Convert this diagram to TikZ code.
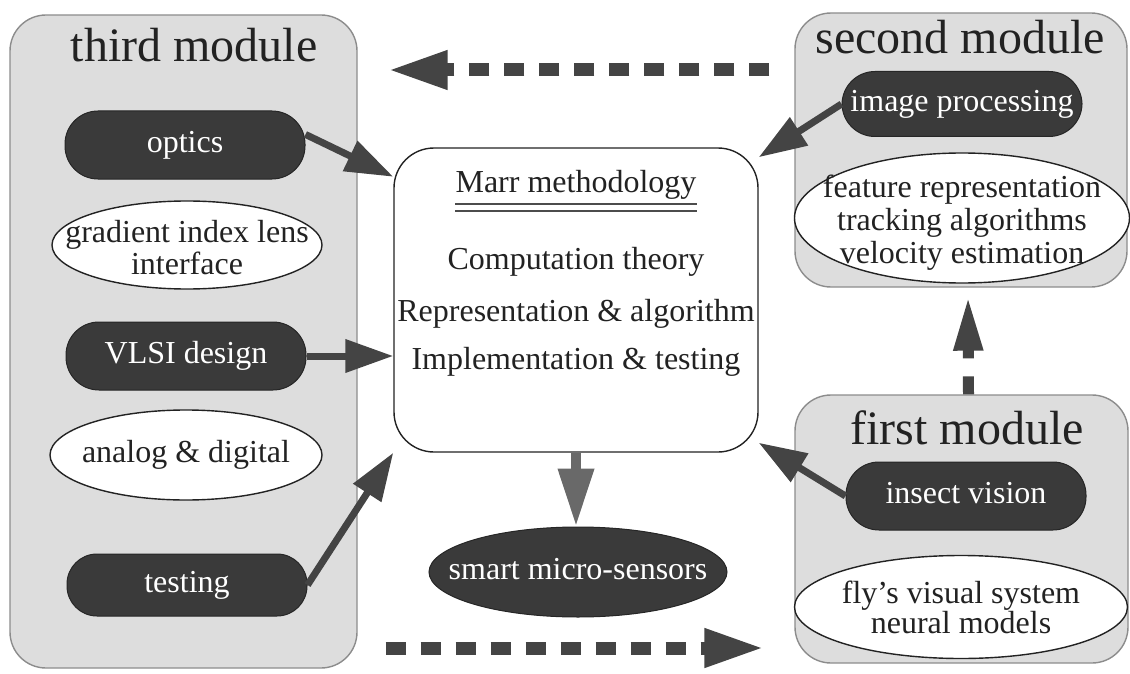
\documentclass[tikz,border=0pt]{standalone}
\usepackage{fontspec}
\setmainfont{Liberation Serif}
\usetikzlibrary{arrows.meta,shapes.geometric,calc}

\definecolor{modfill}{RGB}{221,221,221}
\definecolor{modline}{RGB}{140,140,140}
\definecolor{darkfill}{RGB}{58,58,58}
\definecolor{arrowc}{RGB}{68,68,68}
\definecolor{downc}{RGB}{105,105,105}
\definecolor{inkc}{RGB}{34,34,34}

\newcommand\nodefont{\fontsize{32}{32}\selectfont}
\newcommand\titlefont{\fontsize{48}{50}\selectfont}

\begin{document}
\begin{tikzpicture}[x=1pt,y=-1pt,
  module/.style={draw=modline, line width=1.4pt, fill=modfill, rounded corners=36pt,
    inner sep=0pt},
  title/.style={font=\titlefont, text=inkc, inner sep=0pt},
  darkbox/.style={draw=black!85, line width=1pt, fill=darkfill, text=white,
    rounded corners=33pt, minimum width=240pt, minimum height=68pt, inner sep=0pt,
    font=\nodefont, text height=22pt, text depth=7pt},
  lightell/.style={ellipse, draw=inkc, line width=1.4pt, fill=white, inner sep=0pt},
  darkell/.style={ellipse, draw=black!85, line width=1pt, fill=darkfill, inner sep=0pt},
  txt/.style={font=\nodefont, text=inkc, align=center, inner sep=0pt},
  marrbox/.style={draw=inkc, line width=1.4pt, fill=white, rounded corners=40pt,
    inner sep=0pt},
  ul/.style={draw=black!70, line width=1.6pt},
  solidarr/.style={draw=arrowc, line width=7pt, -{Triangle[length=48pt,width=32pt]}},
  downarr/.style={draw=downc, line width=10pt, -{Triangle[length=58pt,width=34pt]}},
  dasharr/.style={draw=arrowc, line width=13pt, dash pattern=on 20pt off 15pt,
    -{Triangle[length=60pt,width=36pt]}},
  uparr/.style={draw=arrowc, line width=11pt, dash pattern=on 18pt off 18pt,
    -{Triangle[length=55pt,width=27pt]}}
]
\useasboundingbox (0,0) rectangle (1130,674);

% module panels
\node[module, minimum width=347pt, minimum height=653pt] (m3) at (183.5,341.5) {};
\node[module, minimum width=332pt, minimum height=274pt] (m2) at (961,150) {};
\node[module, minimum width=333pt, minimum height=268pt] (m1) at (961.5,529) {};
\node[title] (t3) at (194,45) {third module};
\node[title] (t2) at (960,37) {second module};
\node[title] (t1) at (967,428) {first module};

% third module
\node[darkbox] (optics) at (185,145) {optics};
\node[lightell, minimum width=270pt, minimum height=88pt] (grad) at (187,245) {};
\node[txt] (gradtxt) at (187,248) {gradient index lens\\interface};
\node[darkbox] (vlsi) at (186,356) {VLSI design};
\node[lightell, minimum width=272pt, minimum height=90pt] (anadig) at (186,455) {};
\node[txt, text height=22pt, text depth=7pt] (anadigtxt) at (anadig) {analog \& digital};
\node[darkbox, minimum height=62pt, rounded corners=30pt] (testing) at (187,585) {testing};

% central methodology box
\node[marrbox, minimum width=364pt, minimum height=304pt] (marr) at (576,300) {};
\node[txt, text height=22pt, text depth=7pt] (mt) at (576,185) {Marr methodology};
\draw[ul] ($(mt.south west)+(0,4)$) -- ($(mt.south east)+(0,4)$);
\draw[ul] ($(mt.south west)+(0,11)$) -- ($(mt.south east)+(0,11)$);
\node[txt, text height=22pt, text depth=7pt] (comp) at (576,262) {Computation theory};
\node[txt, text height=22pt, text depth=7pt] (repr) at (576,314) {Representation \& algorithm};
\node[txt, text height=22pt, text depth=7pt] (impl) at (576,362) {Implementation \& testing};

% output
\node[darkell, minimum width=298pt, minimum height=90pt] (smart) at (578,572) {};
\node[txt, text=white, text height=22pt, text depth=7pt] (smarttxt) at (smart) {smart micro-sensors};

% second module
\node[darkbox, minimum height=65pt] (imgproc) at (962,104) {image processing};
\node[lightell, minimum width=335pt, minimum height=130pt] (feat) at (962,218) {};
\node[txt, font=\fontsize{32}{33}\selectfont] (feattxt) at (962,223) {feature representation\\tracking algorithms\\velocity estimation};

% first module
\node[darkbox] (insect) at (966,496) {insect vision};
\node[lightell, minimum width=333pt, minimum height=103pt] (fly) at (961,607) {};
\node[txt, font=\fontsize{32}{30}\selectfont] (flytxt) at (961,607) {fly’s visual system\\neural models};

% solid connectors into the methodology box
\draw[solidarr] (optics.5) -- (marr.146);
\draw[solidarr] (vlsi.east) -- (marr.west |- vlsi.east);
\draw[solidarr] (testing.east) -- (marr.south west);
\draw[solidarr] (imgproc.west) -- (marr.38);
\draw[solidarr] (insect.west) -- (marr.322);
\draw[downarr] (marr.south) -- (marr.south |- smart.north);

% dashed flow between modules
\coordinate (ytop) at (0,70);
\coordinate (ybot) at (0,648);
\draw[dasharr, shorten <=25pt, shorten >=30pt] (m2.west |- ytop) -- (m3.east |- ytop);
\draw[dasharr, shorten <=28pt, shorten >=30pt] (m3.east |- ybot) -- (m1.west |- ybot);
\draw[uparr, shorten >=8pt] ([xshift=7pt]m1.north) -- ([xshift=7pt]m2.south);
\end{tikzpicture}
\end{document}
